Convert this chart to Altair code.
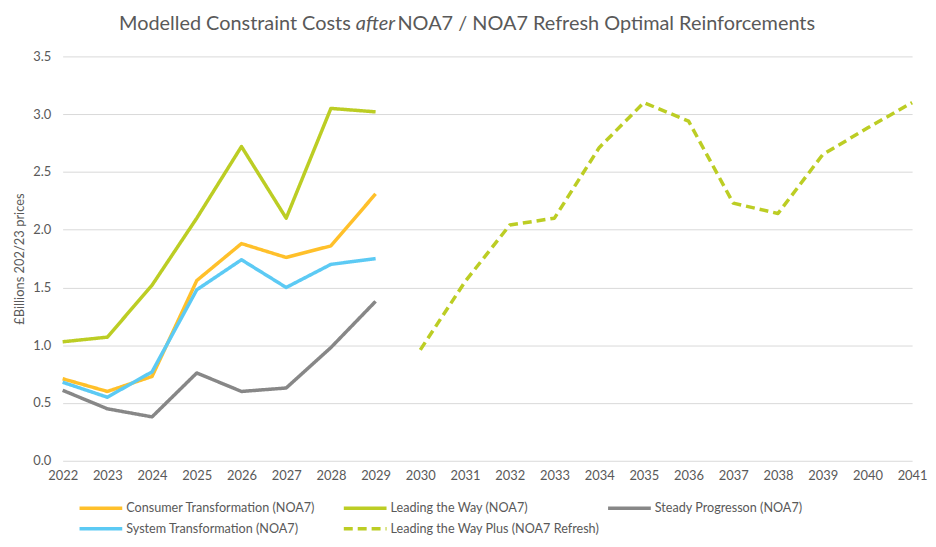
import altair as alt
import pandas as pd

# ---- data ----
years_noa7 = [2022, 2023, 2024, 2025, 2026, 2027, 2028, 2029]
years_refresh = [2030, 2031, 2032, 2033, 2034, 2035, 2036, 2037, 2038, 2039, 2040, 2041]

consumer = [0.71, 0.60, 0.73, 1.56, 1.88, 1.76, 1.86, 2.31]
leading = [1.03, 1.07, 1.52, 2.10, 2.72, 2.10, 3.05, 3.02]
steady = [0.61, 0.45, 0.38, 0.76, 0.60, 0.63, 0.98, 1.38]
system = [0.68, 0.55, 0.77, 1.48, 1.74, 1.50, 1.70, 1.75]
leading_plus = [0.96, 1.55, 2.04, 2.10, 2.71, 3.10, 2.94, 2.23, 2.14, 2.65, 2.88, 3.10]

series_names = [
    "Consumer Transformation (NOA7)",
    "Leading the Way (NOA7)",
    "Steady Progresson (NOA7)",
    "System Transformation (NOA7)",
    "Leading the Way Plus (NOA7 Refresh)",
]
series_colors = ["#FFC02A", "#BCCD24", "#878787", "#5CCAF4", "#BCCD24"]
series_dashes = [[1, 0], [1, 0], [1, 0], [1, 0], [9, 5]]

x_ticks = list(range(2022, 2042))
y_ticks = [0.0, 0.5, 1.0, 1.5, 2.0, 2.5, 3.0, 3.5]

title_parts = ["Modelled Constraint Costs", "after", "NOA7 / NOA7 Refresh Optimal Reinforcements"]
y_title = "£Billions 202/23 prices"

# ---- build table ----
rows = []
for name, yrs, vals in [
    (series_names[2], years_noa7, steady),
    (series_names[0], years_noa7, consumer),
    (series_names[3], years_noa7, system),
    (series_names[1], years_noa7, leading),
    (series_names[4], years_refresh, leading_plus),
]:
    for y, v in zip(yrs, vals):
        rows.append({"year": y, "value": v, "series": name})
df = pd.DataFrame(rows)

FONT = "Lato"
GREY = "#595959"

lines = alt.Chart(df).mark_line(strokeWidth=3.5, strokeCap="butt", strokeJoin="round").encode(
    x=alt.X("year:Q", scale=alt.Scale(domain=[2022, 2041], nice=False, zero=False),
            axis=alt.Axis(values=x_ticks, format="d", grid=False, domain=False, ticks=False,
                          labelPadding=9, labelFontSize=13, labelColor=GREY, labelFont=FONT,
                          title=None, labelFlush=False)),
    y=alt.Y("value:Q", scale=alt.Scale(domain=[0, 3.5], nice=False),
            axis=alt.Axis(values=y_ticks, format=".1f", domain=False, ticks=False,
                          gridColor="#D9D9D9", gridWidth=1, labelPadding=12,
                          labelFontSize=13, labelColor=GREY, labelFont=FONT,
                          title=y_title, titleFontSize=13, titleFont=FONT, titleColor=GREY,
                          titleFontWeight="normal", titlePadding=6)),
    color=alt.Color("series:N", scale=alt.Scale(domain=series_names, range=series_colors),
                    legend=alt.Legend(orient="none", legendX=17, legendY=444, columns=3,
                                      direction="horizontal",
                                      gridAlign="all", symbolType="M-2.5,0H2.5", symbolSize=296,
                                      symbolStrokeWidth=3.5, symbolOffset=11,
                                      symbolFillColor="transparent",
                                      labelFontSize=12.7, labelFont=FONT,
                                      labelColor=GREY, labelOffset=15, columnPadding=0,
                                      rowPadding=3, padding=0, title=None, labelLimit=400)),
    strokeDash=alt.StrokeDash("series:N", scale=alt.Scale(domain=series_names, range=series_dashes),
                              legend=None),
)

TY = -33
t_left = alt.Chart(pd.DataFrame({"t": [title_parts[0]]})).mark_text(
    align="right", baseline="middle", fontSize=20, font=FONT, color=GREY
).encode(text="t:N", x=alt.value(290), y=alt.value(TY))
t_mid = alt.Chart(pd.DataFrame({"t": [title_parts[1]]})).mark_text(
    align="left", baseline="middle", fontSize=20, font=FONT, color=GREY, fontStyle="italic"
).encode(text="t:N", x=alt.value(295), y=alt.value(TY))
t_right = alt.Chart(pd.DataFrame({"t": [title_parts[2]]})).mark_text(
    align="left", baseline="middle", fontSize=20, font=FONT, color=GREY
).encode(text="t:N", x=alt.value(337), y=alt.value(TY))

chart = alt.layer(lines, t_left, t_mid, t_right).properties(
    width=855, height=407,
    autosize=alt.AutoSizeParams(type="none"),
    padding={"left": 55, "top": 47, "right": 16, "bottom": 76},
).configure_view(stroke=None)

chart.save("out.html", embed_options={"renderer": "svg", "actions": False})
